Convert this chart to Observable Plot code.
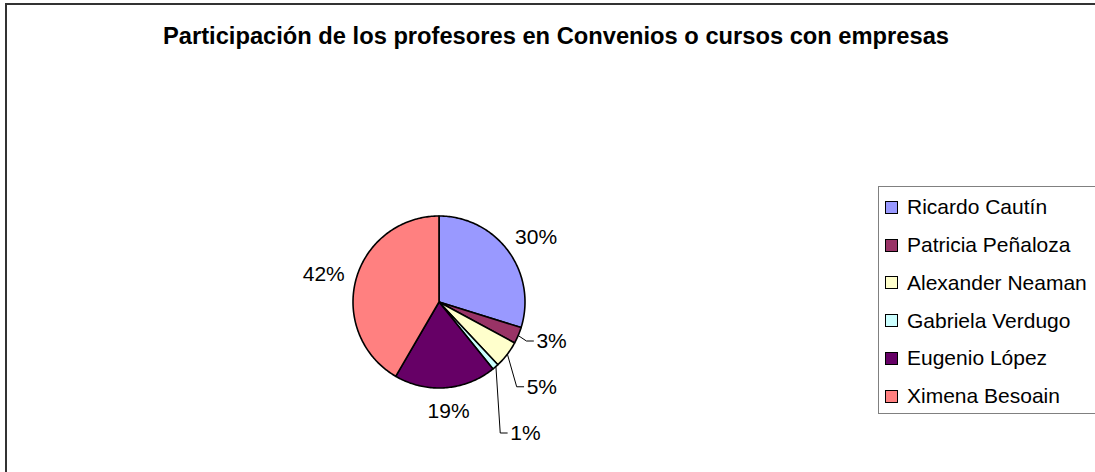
<!DOCTYPE html>
<html>
<head>
<meta charset="utf-8">
<script src="https://cdn.jsdelivr.net/npm/d3@7"></script>
<script src="https://cdn.jsdelivr.net/npm/@observablehq/plot@0.6"></script>
<style>
html, body { margin: 0; padding: 0; background: #fff; }
#chart { position: relative; width: 1095px; height: 472px; overflow: hidden; font-family: "Liberation Sans", Arial, sans-serif; color: #000; }
#frame { position: absolute; left: 5px; top: 3px; width: 1300px; height: 700px; border-left: 2px solid #333; border-top: 2px solid #333; }
#title { position: absolute; left: 163px; top: 24.8px; font-size: 23px; line-height: 23px; font-weight: bold; white-space: nowrap; transform-origin: 0 0; }
#plot { position: absolute; left: 0; top: 0; }
#legend { position: absolute; left: 878px; top: 186px; width: 280px; height: 227.5px; box-sizing: border-box; border: 1px solid #808080; padding: 1.4px 0 0 6px; background: #fff; }
.row { display: flex; align-items: center; height: 37.75px; font-size: 21px; white-space: nowrap; }
.sw { width: 13px; height: 13px; box-sizing: border-box; border: 1.5px solid #000; flex: none; }
.lab { margin-left: 9px; }
</style>
</head>
<body>
<div id="chart">
  <div id="frame"></div>
  <div id="plot"></div>
  <div id="title"></div>
  <div id="legend"></div>
</div>
<script>
// ---- data ----
const titleText = "Participación de los profesores en Convenios o cursos con empresas";
const names = ["Ricardo Cautín", "Patricia Peñaloza", "Alexander Neaman", "Gabriela Verdugo", "Eugenio López", "Ximena Besoain"];
const shares = [29.8, 3.1, 5.1, 1.2, 19.2, 41.6];
const colors = ["#9999FF", "#993366", "#FFFFCC", "#CCFFFF", "#660066", "#FF8080"];

// ---- layout (not data) ----
const W = 1095, H = 472, CX = 439, CY = 302, R = 86, FS = 21;
const gap = 0.15, hh = 10.5 / R;
// labels dragged away from the pie (px, y up), drawn with leader lines
const nudge = {
  "Patricia Peñaloza": [7, 4],
  "Alexander Neaman": [12, -17.5],
  "Gabriela Verdugo": [11, -48]
};

const total = d3.sum(shares);
let cum = 0;
const slices = names.map((name, i) => {
  const a0 = cum / total * 2 * Math.PI;
  cum += shares[i];
  const a1 = cum / total * 2 * Math.PI;
  return {name, a0, a1, text: Math.round(shares[i] / total * 100) + "%"};
});

const arcPts = slices.flatMap(s => {
  const n = Math.max(2, Math.ceil((s.a1 - s.a0) / (Math.PI / 180)));
  return d3.range(n + 1).map(j => {
    const a = s.a0 + (s.a1 - s.a0) * j / n;
    return {name: s.name, x: Math.sin(a), y: Math.cos(a), cx: 0, cy: 0};
  });
});

const labels = [];
const leaders = [];
slices.forEach(s => {
  const m = (s.a0 + s.a1) / 2;
  const ux = Math.sin(m), uy = Math.cos(m);
  const digits = s.text.length - 1;
  const hw = (digits * 0.556 + 0.889) * FS / 2 / R;
  let x = (1 + gap) * ux + ux * hw;
  let y = (1 + gap) * uy + uy * hh;
  const nd = nudge[s.name];
  if (nd) {
    x += nd[0] / R; y += nd[1] / R;
    leaders.push({name: s.name, x: ux, y: uy});
    leaders.push({name: s.name, x: x - hw - 10 / R, y});
    leaders.push({name: s.name, x: x - hw - 3 / R, y});
  }
  labels.push({name: s.name, x, y, text: s.text});
});

const plot = Plot.plot({
  width: W, height: H, margin: 0,
  x: {domain: [-CX / R, (W - CX) / R], axis: null},
  y: {domain: [-(H - CY) / R, CY / R], axis: null},
  color: {domain: names, range: colors},
  style: {fontFamily: "'Liberation Sans', Arial, sans-serif", background: "transparent", overflow: "visible"},
  marks: [
    Plot.area(arcPts, {x1: "x", y1: "y", x2: "cx", y2: "cy", z: "name", fill: "name", stroke: "#000", strokeWidth: 1.6, strokeLinejoin: "round"}),
    Plot.line(leaders, {x: "x", y: "y", z: "name", stroke: "#000", strokeWidth: 1}),
    Plot.text(labels, {x: "x", y: "y", text: "text", fontSize: FS, fill: "#000"})
  ]
});
document.getElementById("plot").appendChild(plot);

// title
const t = document.getElementById("title");
t.textContent = titleText;
const tw = t.getBoundingClientRect().width;
t.style.transform = `scaleX(${786 / tw})`;

// legend
const lg = d3.select("#legend");
names.forEach((n, i) => {
  const row = lg.append("div").attr("class", "row");
  row.append("div").attr("class", "sw").style("background", colors[i]);
  row.append("span").attr("class", "lab").text(n);
});
</script>
</body>
</html>
